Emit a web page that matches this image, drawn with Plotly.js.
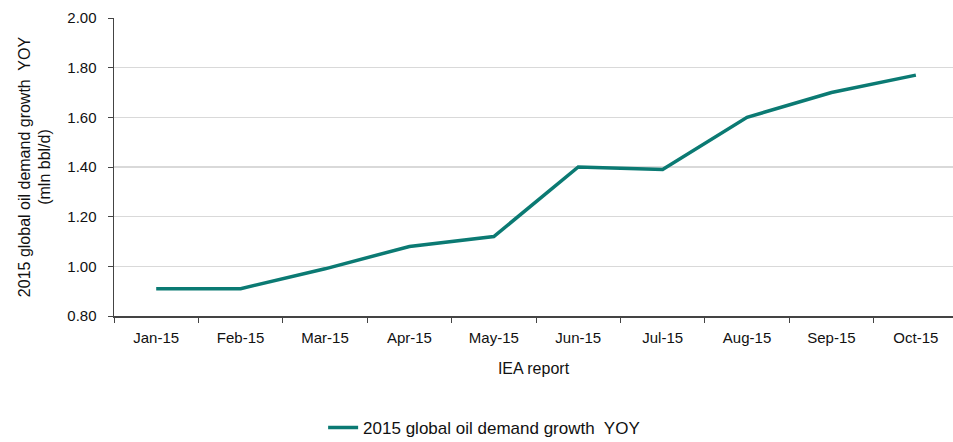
<!DOCTYPE html>
<html>
<head>
<script src="https://cdn.plot.ly/plotly-3.0.1.min.js"></script>
<style>html,body{margin:0;padding:0;background:#fff;}#chart{width:953px;height:442px;}</style>
</head>
<body>
<div id="chart"></div>
<script>
var months = ["Jan-15","Feb-15","Mar-15","Apr-15","May-15","Jun-15","Jul-15","Aug-15","Sep-15","Oct-15"];
var demandGrowth = [0.91, 0.91, 0.99, 1.08, 1.12, 1.40, 1.39, 1.60, 1.70, 1.77];
var seriesName = "2015 global oil demand growth  YOY";
var yTicks = [0.80, 1.00, 1.20, 1.40, 1.60, 1.80, 2.00];

var fontFam = "Liberation Sans, Arial, sans-serif";
var trace = {
  x: months, y: demandGrowth, type: "scatter", mode: "lines", name: seriesName,
  line: {color: "#0b7a73", width: 3.5, shape: "linear"}
};
var layout = {
  width: 953, height: 442,
  margin: {l: 114, r: 0, t: 18, b: 126},
  paper_bgcolor: "#fff", plot_bgcolor: "#fff",
  font: {family: fontFam, size: 15, color: "#111"},
  showlegend: true,
  legend: {orientation: "h", xref: "container", yref: "container", x: 0.508, xanchor: "center", y: 0.032, yanchor: "middle", font: {size: 17}},
  xaxis: {
    type: "category", range: [-0.5, 9.44], tickson: "boundaries", automargin: false,
    showline: true, linecolor: "#444", linewidth: 1.5, ticks: "outside", ticklen: 5, tickcolor: "#444",
    showgrid: false, zeroline: false, tickfont: {size: 15}, ticklabelstandoff: 7,
    title: {text: "IEA report", font: {size: 16}, standoff: 18}
  },
  yaxis: {
    range: [0.80, 2.00], tickvals: yTicks, tickformat: ".2f", automargin: false,
    showline: true, linecolor: "#444", linewidth: 1.5, ticks: "outside", ticklen: 5, tickcolor: "#444",
    showgrid: true, gridcolor: "#d9d9d9", gridwidth: 1.5, zeroline: false, tickfont: {size: 15}, ticklabelstandoff: 8,
    title: {text: "2015 global oil demand growth  YOY<br>(mln bbl/d)", font: {size: 16}, standoff: 12}
  }
};
Plotly.newPlot("chart", [trace], layout, {displayModeBar: false, staticPlot: true});
</script>
</body>
</html>
